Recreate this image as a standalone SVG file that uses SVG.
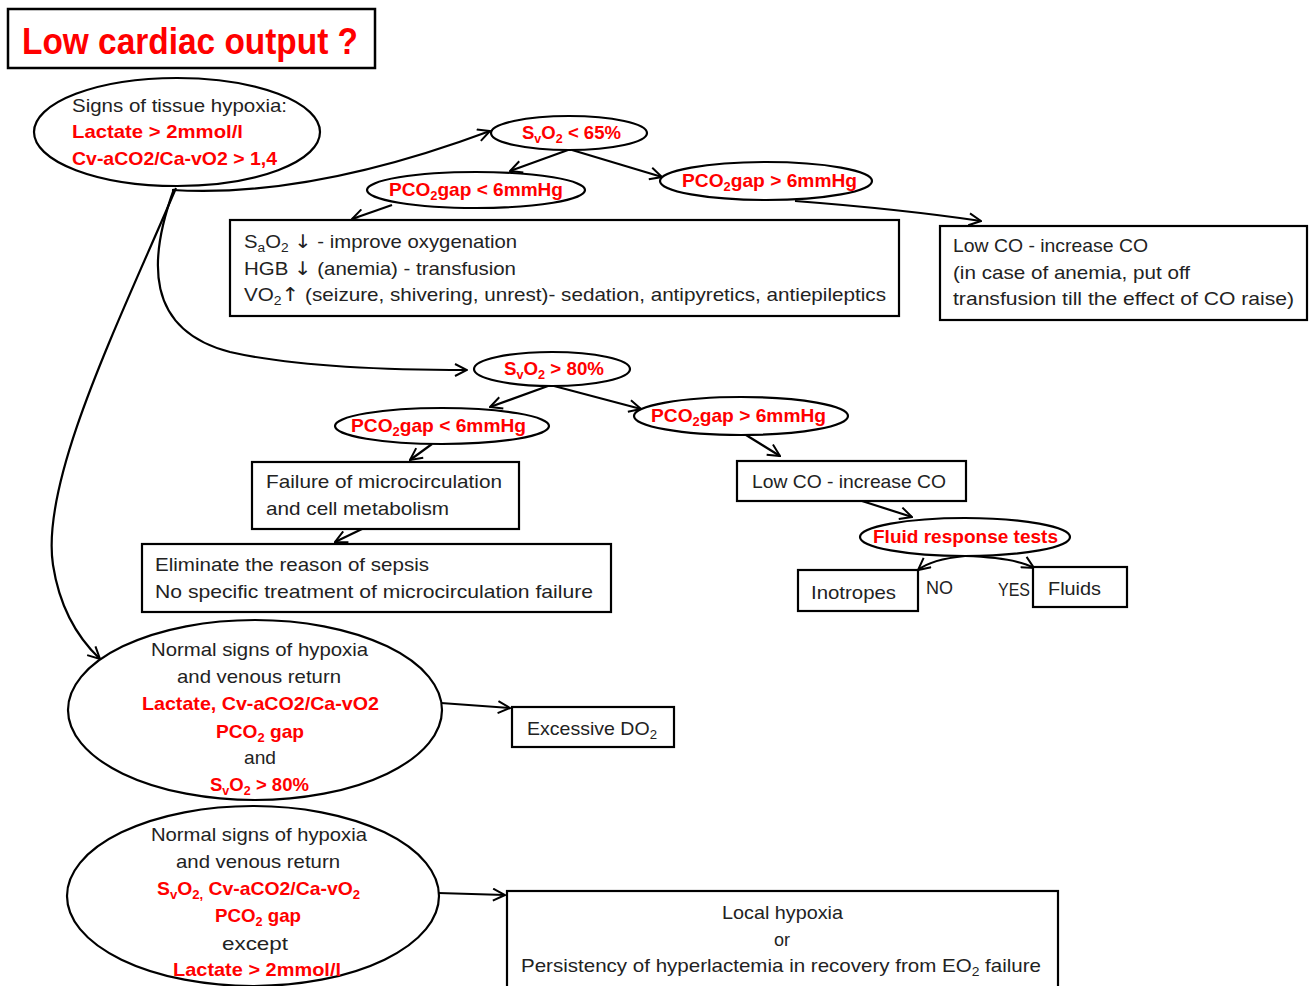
<svg xmlns="http://www.w3.org/2000/svg" width="1309" height="986" viewBox="0 0 1309 986">
<style>
text{font-family:"Liberation Sans",Arial,sans-serif;font-size:18.5px;fill:#222}
.r{fill:#f00;font-weight:bold}
.shape{fill:#fff;stroke:#000;stroke-width:2.2}
.edge{fill:none;stroke:#000;stroke-width:2.2;marker-end:url(#ah)}
.sub{font-size:12.5px}
.arr{font-family:"DejaVu Sans",sans-serif;font-size:19px}
</style>
<defs>
<marker id="ah" viewBox="0 0 14 14" refX="13" refY="7" markerWidth="14" markerHeight="14" markerUnits="userSpaceOnUse" orient="auto">
<path d="M1,1 L13,7 L1,13" fill="none" stroke="#000" stroke-width="2"/>
</marker>
</defs>
<rect width="1309" height="986" fill="#fff"/>

<g id="connectors">
<path class="edge" d="M172 190 C270 196 380 172 490 131"/>
<path class="edge" d="M174 189 C148 260 145 330 230 352 C300 368 400 370 467 370"/>
<path class="edge" d="M176 188 C120 320 40 480 53 565 C60 610 80 640 100 659"/>
<path class="edge" d="M568 150 L510 171"/>
<path class="edge" d="M572 150 L662 177"/>
<path class="edge" d="M392 205 L352 219"/>
<path class="edge" d="M795 201 C860 206 920 212 981 221"/>
<path class="edge" d="M548 386 L490 407"/>
<path class="edge" d="M554 386 L641 409"/>
<path class="edge" d="M432 444 L410 460"/>
<path class="edge" d="M746 435 L780 456"/>
<path class="edge" d="M362 529 L335 542"/>
<path class="edge" d="M862 501 L912 517"/>
<path class="edge" d="M965 556 C945 558 928 562 918 570"/>
<path class="edge" d="M965 556 C995 557 1020 560 1034 568"/>
<path class="edge" d="M441 703 L510 708"/>
<path class="edge" d="M438 893 L505 895"/>
</g>

<g id="title">
<rect x="8" y="9" width="367" height="59" fill="#fff" stroke="#000" stroke-width="2.5"/>
<text x="22" y="54" textLength="336" lengthAdjust="spacingAndGlyphs" style="font-size:36px;font-weight:bold;fill:#f00">Low cardiac output ?</text>
</g>

<g id="n_signs">
<ellipse class="shape" cx="177" cy="132" rx="143" ry="54"/>
<text x="72" y="112" textLength="215" lengthAdjust="spacingAndGlyphs">Signs of  tissue hypoxia:</text>
<text class="r" x="72" y="138" textLength="171" lengthAdjust="spacingAndGlyphs">Lactate &gt; 2mmol/l</text>
<text class="r" x="72" y="165" textLength="205" lengthAdjust="spacingAndGlyphs">Cv-aCO2/Ca-vO2 &gt; 1,4</text>
</g>

<g id="n_svo2_65">
<ellipse class="shape" cx="569" cy="133" rx="78" ry="17"/>
<text class="r" x="522" y="139" textLength="99" lengthAdjust="spacingAndGlyphs">S<tspan class="sub" dy="4">v</tspan><tspan dy="-4">O</tspan><tspan class="sub" dy="4">2</tspan><tspan dy="-4"> &lt; 65%</tspan></text>
</g>

<g id="n_gap_lt_1">
<ellipse class="shape" cx="476" cy="190" rx="109" ry="18"/>
<text class="r" x="389" y="196" textLength="174" lengthAdjust="spacingAndGlyphs">PCO<tspan class="sub" dy="4">2</tspan><tspan dy="-4">gap &lt; 6mmHg</tspan></text>
</g>

<g id="n_gap_gt_1">
<ellipse class="shape" cx="766" cy="181" rx="106" ry="19"/>
<text class="r" x="682" y="187" textLength="175" lengthAdjust="spacingAndGlyphs">PCO<tspan class="sub" dy="4">2</tspan><tspan dy="-4">gap &gt; 6mmHg</tspan></text>
</g>

<g id="n_treat1">
<rect class="shape" x="230" y="220" width="669" height="96"/>
<text x="244" y="248" textLength="273" lengthAdjust="spacingAndGlyphs">S<tspan class="sub" dy="4">a</tspan><tspan dy="-4">O</tspan><tspan class="sub" dy="4">2</tspan><tspan dy="-4"> </tspan><tspan class="arr">↓</tspan> - improve oxygenation</text>
<text x="244" y="275" textLength="272" lengthAdjust="spacingAndGlyphs">HGB <tspan class="arr">↓</tspan> (anemia) - transfusion</text>
<text x="244" y="301" textLength="642" lengthAdjust="spacingAndGlyphs">VO<tspan class="sub" dy="4">2</tspan><tspan dy="-4" class="arr">↑</tspan> (seizure, shivering, unrest)- sedation, antipyretics, antiepileptics</text>
</g>

<g id="n_lowco1">
<rect class="shape" x="940" y="226" width="367" height="94"/>
<text x="953" y="252" textLength="195" lengthAdjust="spacingAndGlyphs">Low CO - increase CO</text>
<text x="953" y="279" textLength="237" lengthAdjust="spacingAndGlyphs">(in case of anemia, put off</text>
<text x="953" y="305" textLength="341" lengthAdjust="spacingAndGlyphs">transfusion till the  effect of  CO raise)</text>
</g>

<g id="n_svo2_80">
<ellipse class="shape" cx="552" cy="369" rx="78" ry="17"/>
<text class="r" x="504" y="375" textLength="100" lengthAdjust="spacingAndGlyphs">S<tspan class="sub" dy="4">v</tspan><tspan dy="-4">O</tspan><tspan class="sub" dy="4">2</tspan><tspan dy="-4"> &gt; 80%</tspan></text>
</g>

<g id="n_gap_lt_2">
<ellipse class="shape" cx="442" cy="426" rx="107" ry="18"/>
<text class="r" x="351" y="432" textLength="175" lengthAdjust="spacingAndGlyphs">PCO<tspan class="sub" dy="4">2</tspan><tspan dy="-4">gap &lt; 6mmHg</tspan></text>
</g>

<g id="n_gap_gt_2">
<ellipse class="shape" cx="741" cy="416" rx="107" ry="19"/>
<text class="r" x="651" y="422" textLength="175" lengthAdjust="spacingAndGlyphs">PCO<tspan class="sub" dy="4">2</tspan><tspan dy="-4">gap &gt; 6mmHg</tspan></text>
</g>

<g id="n_failure">
<rect class="shape" x="252" y="462" width="267" height="67"/>
<text x="266" y="488" textLength="236" lengthAdjust="spacingAndGlyphs">Failure of microcirculation</text>
<text x="266" y="515" textLength="183" lengthAdjust="spacingAndGlyphs">and cell metabolism</text>
</g>

<g id="n_eliminate">
<rect class="shape" x="142" y="544" width="469" height="68"/>
<text x="155" y="571" textLength="274" lengthAdjust="spacingAndGlyphs">Eliminate the  reason of sepsis</text>
<text x="155" y="598" textLength="438" lengthAdjust="spacingAndGlyphs">No specific treatment  of microcirculation  failure</text>
</g>

<g id="n_lowco2">
<rect class="shape" x="737" y="461" width="229" height="40"/>
<text x="752" y="488" textLength="194" lengthAdjust="spacingAndGlyphs">Low CO - increase CO</text>
</g>

<g id="n_fluidtest">
<ellipse class="shape" cx="965" cy="537" rx="105" ry="19"/>
<text class="r" x="873" y="543" textLength="185" lengthAdjust="spacingAndGlyphs">Fluid response tests</text>
</g>

<g id="n_inotropes">
<rect class="shape" x="798" y="570" width="120" height="41"/>
<text x="811" y="599" textLength="85" lengthAdjust="spacingAndGlyphs">Inotropes</text>
</g>

<g id="n_fluids">
<rect class="shape" x="1033" y="567" width="94" height="40"/>
<text x="1048" y="595" textLength="53" lengthAdjust="spacingAndGlyphs">Fluids</text>
</g>

<g id="labels">
<text x="926" y="594" textLength="27" lengthAdjust="spacingAndGlyphs">NO</text>
<text x="998" y="596" textLength="32" lengthAdjust="spacingAndGlyphs">YES</text>
</g>

<g id="n_normal1">
<ellipse class="shape" cx="255" cy="710" rx="187" ry="90"/>
<text x="151" y="656" textLength="217" lengthAdjust="spacingAndGlyphs">Normal  signs of hypoxia</text>
<text x="177" y="683" textLength="164" lengthAdjust="spacingAndGlyphs">and venous return</text>
<text class="r" x="142" y="710" textLength="237" lengthAdjust="spacingAndGlyphs">Lactate, Cv-aCO2/Ca-vO2</text>
<text class="r" x="216" y="738" textLength="88" lengthAdjust="spacingAndGlyphs">PCO<tspan class="sub" dy="4">2</tspan><tspan dy="-4"> gap</tspan></text>
<text x="244" y="764" textLength="32" lengthAdjust="spacingAndGlyphs">and</text>
<text class="r" x="210" y="791" textLength="99" lengthAdjust="spacingAndGlyphs">S<tspan class="sub" dy="4">v</tspan><tspan dy="-4">O</tspan><tspan class="sub" dy="4">2</tspan><tspan dy="-4"> &gt; 80%</tspan></text>
</g>

<g id="n_excessive">
<rect class="shape" x="512" y="707" width="162" height="40"/>
<text x="527" y="735" textLength="130" lengthAdjust="spacingAndGlyphs">Excessive DO<tspan class="sub" dy="4">2</tspan></text>
</g>

<g id="n_normal2">
<ellipse class="shape" cx="253" cy="896" rx="186" ry="90"/>
<text x="151" y="841" textLength="216" lengthAdjust="spacingAndGlyphs">Normal  signs of hypoxia</text>
<text x="176" y="868" textLength="164" lengthAdjust="spacingAndGlyphs">and venous return</text>
<text class="r" x="157" y="895" textLength="203" lengthAdjust="spacingAndGlyphs">S<tspan class="sub" dy="4">v</tspan><tspan dy="-4">O</tspan><tspan class="sub" dy="4">2,</tspan><tspan dy="-4"> Cv-aCO2/Ca-vO</tspan><tspan class="sub" dy="4">2</tspan></text>
<text class="r" x="215" y="922" textLength="86" lengthAdjust="spacingAndGlyphs">PCO<tspan class="sub" dy="4">2</tspan><tspan dy="-4"> gap</tspan></text>
<text x="222" y="950" textLength="66" lengthAdjust="spacingAndGlyphs">except</text>
<text class="r" x="173" y="976" textLength="168" lengthAdjust="spacingAndGlyphs">Lactate &gt; 2mmol/l</text>
</g>

<g id="n_local">
<rect class="shape" x="507" y="891" width="551" height="100"/>
<text x="722" y="919" textLength="121" lengthAdjust="spacingAndGlyphs">Local hypoxia</text>
<text x="774" y="946" textLength="16" lengthAdjust="spacingAndGlyphs">or</text>
<text x="521" y="972" textLength="520" lengthAdjust="spacingAndGlyphs">Persistency of hyperlactemia in recovery  from EO<tspan class="sub" dy="4">2</tspan><tspan dy="-4"> failure</tspan></text>
</g>
</svg>
